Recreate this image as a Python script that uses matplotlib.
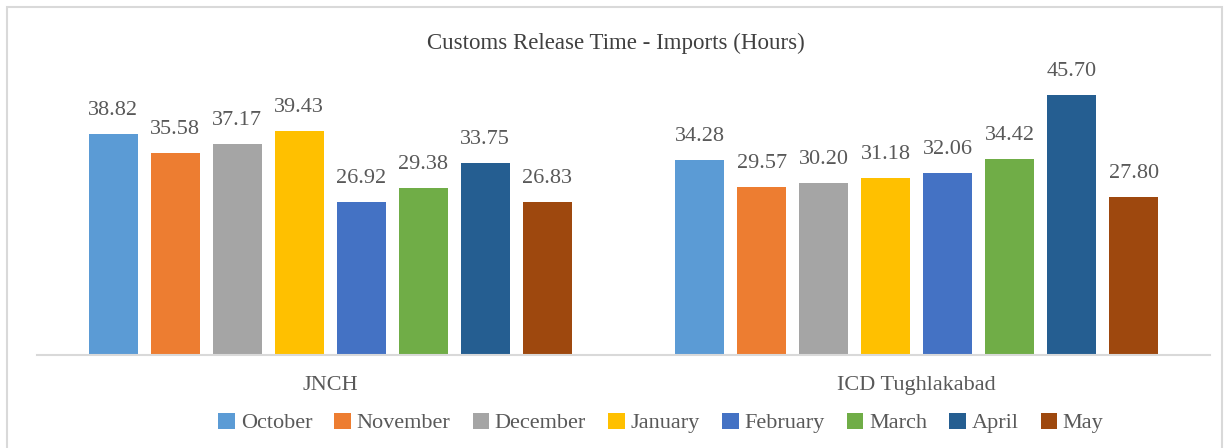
import matplotlib
matplotlib.use("Agg")
import matplotlib.pyplot as plt
from matplotlib.patches import Rectangle, Patch
import numpy as np

categories = ["JNCH", "ICD Tughlakabad"]
months = ["October", "November", "December", "January", "February", "March", "April", "May"]
values = {
    "October": [38.82, 34.28],
    "November": [35.58, 29.57],
    "December": [37.17, 30.20],
    "January": [39.43, 31.18],
    "February": [26.92, 32.06],
    "March": [29.38, 34.42],
    "April": [33.75, 45.70],
    "May": [26.83, 27.80],
}
colors = ["#5B9BD5", "#ED7D31", "#A5A5A5", "#FFC000", "#4472C4", "#70AD47", "#255E91", "#9E480E"]
title = "Customs Release Time - Imports (Hours)"

plt.rcParams['font.family'] = ['Liberation Serif', 'DejaVu Serif']
txt = "#595959"

W, H = 1225, 448
fig = plt.figure(figsize=(W / 100, H / 100), dpi=100)
ax = fig.add_axes([37 / W, 1 - 355 / H, (1210 - 37) / W, (355 - 70.5) / H])

x = np.arange(len(categories))
step = 62 / 586.5
bw = 49 / 586.5
n = len(months)
for i, m in enumerate(months):
    pos = x + (i - (n - 1) / 2) * step
    bars = ax.bar(pos, values[m], width=bw, color=colors[i], label=m, zorder=2)
    for b, v in zip(bars, values[m]):
        ax.annotate(f"{v:.2f}", (b.get_x() + b.get_width() / 2, v),
                    xytext=(0, 10), textcoords="offset points",
                    ha="center", va="bottom", fontsize=16, color=txt)

ax.set_xlim(-0.5, 1.5)
ax.set_ylim(0, 50)
ax.set_xticks(x)
ax.set_xticklabels(categories, fontsize=16, color=txt)
ax.tick_params(axis="x", length=0, pad=15)
ax.set_yticks([])
for s in ["top", "right", "left"]:
    ax.spines[s].set_visible(False)
ax.spines["bottom"].set_color("#D9D9D9")
ax.spines["bottom"].set_linewidth(1.5)

fig.text(616 / W, 1 - 43 / H, title, ha="center", va="center", fontsize=16.5, color="#404040")

handles = [Patch(facecolor=c, label=m) for c, m in zip(colors, months)]
fig.legend(handles=handles, loc="center", bbox_to_anchor=(661 / W, 1 - 423 / H), ncol=8,
           frameon=False, fontsize=16, labelcolor=txt, handlelength=0.75, handleheight=0.75,
           handletextpad=0.25, columnspacing=1.0)

fig.patches.append(Rectangle((7 / W, -0.05), (1222 - 7) / W, 1 - 7 / H + 0.05,
                             transform=fig.transFigure, fill=False,
                             edgecolor="#D9D9D9", linewidth=1.5))

fig.savefig("out.png", dpi=100)
